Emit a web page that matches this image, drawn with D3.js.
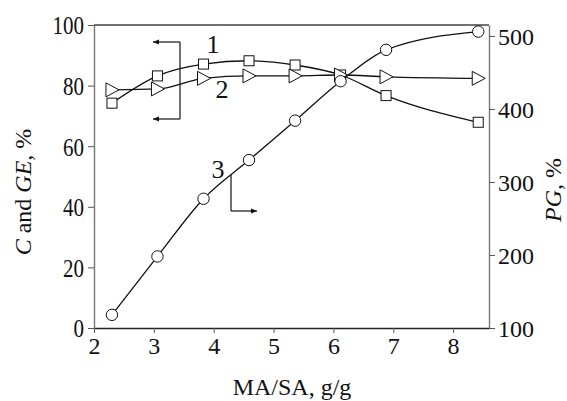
<!DOCTYPE html>
<html lang="en">
<head>
<meta charset="UTF-8">
<script src="https://cdn.jsdelivr.net/npm/d3@7"></script>
<style>
  body { margin: 0; background: #fff; }
  svg text { font-family: 'Liberation Serif', 'Times New Roman', Times, serif; fill: #111; }
</style>
</head>
<body>
<svg width="567" height="401"></svg>
<script>
// data
const massRatio = [2.30, 3.06, 3.83, 4.59, 5.36, 6.12, 6.88, 8.42];   // MA/SA, g/g
const conversion = [74.2, 83.2, 87.1, 88.2, 86.8, 83.5, 76.7, 67.9];  // curve 1, C %
const graftEff = [78.6, 78.9, 82.4, 83.2, 83.2, 83.5, 82.9, 82.4];    // curve 2, GE %
const percentGraft = [118, 198, 277, 330, 384, 438, 481, 506];        // curve 3, PG %

const xTicks = [2, 3, 4, 5, 6, 7, 8];
const leftTicks = [0, 20, 40, 60, 80, 100];
const rightTicks = [100, 200, 300, 400, 500];

const serif = "'Liberation Serif', 'Times New Roman', Times, serif";
const svg = d3.select('svg');
const box = { left: 94, right: 489, top: 25, bottom: 328 };

const x = d3.scaleLinear().domain([2, 8.6]).range([box.left, box.right]);
const yL = d3.scaleLinear().domain([0, 100]).range([box.bottom, box.top]);
const yR = d3.scaleLinear().domain([100, 515]).range([box.bottom, box.top]);

// arrow head
svg.append('defs').append('marker')
  .attr('id', 'arr')
  .attr('viewBox', '0 0 10 10')
  .attr('refX', 10).attr('refY', 5)
  .attr('markerWidth', 9).attr('markerHeight', 6)
  .attr('markerUnits', 'userSpaceOnUse')
  .attr('orient', 'auto')
  .append('path').attr('d', 'M0,1 L10,5 L0,9 Z').attr('fill', '#111');

// axes
const bottomAxis = svg.append('g')
  .attr('transform', `translate(0,${box.bottom})`)
  .call(d3.axisBottom(x).tickValues(xTicks).tickFormat(d3.format('d'))
    .tickSize(5).tickSizeOuter(0).tickPadding(4));
bottomAxis.select('.domain').attr('stroke', '#222').attr('stroke-width', 1.3);

const leftAxis = svg.append('g')
  .attr('transform', `translate(${box.left},0)`)
  .call(d3.axisLeft(yL).tickValues(leftTicks).tickSize(6).tickSizeOuter(0).tickPadding(4));
leftAxis.select('.domain').attr('stroke', '#777').attr('stroke-width', 1.4);

const rightAxis = svg.append('g')
  .attr('transform', `translate(${box.right},0)`)
  .call(d3.axisRight(yR).tickValues(rightTicks).tickSize(6).tickSizeOuter(0).tickPadding(3));
rightAxis.selectAll('text').attr('dy', '0.34em');
rightAxis.select('.domain').attr('stroke', '#777').attr('stroke-width', 1.4);

svg.selectAll('.tick line').attr('stroke', '#555');
svg.selectAll('.tick text').attr('font-size', 24).attr('font-family', serif);
[bottomAxis, leftAxis, rightAxis].forEach(a => a.attr('font-family', serif));

// left tick labels are taller and narrower in the original
leftAxis.selectAll('text')
  .attr('font-size', 26)
  .attr('dy', '0.34em')
  .attr('textLength', d => String(d).length * 10.5)
  .attr('lengthAdjust', 'spacingAndGlyphs');

svg.append('line')
  .attr('x1', box.left).attr('x2', box.right)
  .attr('y1', box.top).attr('y2', box.top)
  .attr('stroke', '#444').attr('stroke-width', 1.3);

// axis titles
svg.append('text')
  .attr('transform', 'translate(31,192) rotate(-90)')
  .attr('text-anchor', 'middle').attr('font-size', 24).attr('font-family', serif)
  .html('<tspan font-style="italic">C</tspan> and <tspan font-style="italic">GE</tspan>, %');

svg.append('text')
  .attr('transform', 'translate(561,190) rotate(-90)')
  .attr('text-anchor', 'middle').attr('font-size', 24).attr('font-family', serif)
  .html('<tspan font-style="italic">PG</tspan>, %');

svg.append('text')
  .attr('x', 292).attr('y', 395)
  .attr('text-anchor', 'middle').attr('font-size', 24).attr('font-family', serif)
  .text('MA/SA, g/g');

// curves
const lineL = d3.line().x(d => x(d[0])).y(d => yL(d[1])).curve(d3.curveMonotoneX);
const lineR = d3.line().x(d => x(d[0])).y(d => yR(d[1])).curve(d3.curveMonotoneX);

const s1 = d3.zip(massRatio, conversion);
const s2 = d3.zip(massRatio, graftEff);
const s3 = d3.zip(massRatio, percentGraft);

const plot = svg.append('g');
plot.append('path').datum(s1).attr('d', lineL);
plot.append('path').datum(s2).attr('d', lineL);
plot.append('path').datum(s3).attr('d', lineR);
plot.selectAll('path').attr('fill', 'none').attr('stroke', '#111').attr('stroke-width', 1.3);

// markers
plot.append('g').selectAll('rect').data(s1).enter().append('rect')
  .attr('x', d => x(d[0]) - 5).attr('y', d => yL(d[1]) - 5)
  .attr('width', 10).attr('height', 10)
  .attr('fill', '#fff').attr('stroke', '#111').attr('stroke-width', 1);

plot.append('g').selectAll('path').data(s2).enter().append('path')
  .attr('transform', d => `translate(${x(d[0])},${yL(d[1])})`)
  .attr('d', 'M-6,-7 L7,0 L-6,7 Z')
  .attr('fill', '#fff').attr('stroke', '#111').attr('stroke-width', 1);

plot.append('g').selectAll('circle').data(s3).enter().append('circle')
  .attr('cx', d => x(d[0])).attr('cy', d => yR(d[1])).attr('r', 5.7)
  .attr('fill', '#fff').attr('stroke', '#111').attr('stroke-width', 1);

// curve labels and pointers
const notes = svg.append('g');
notes.append('text').attr('x', 213).attr('y', 53).text('1');
notes.append('text').attr('x', 222).attr('y', 98).text('2');
notes.append('text').attr('x', 218).attr('y', 178).text('3');
notes.selectAll('text').attr('text-anchor', 'middle').attr('font-size', 26).attr('font-family', serif);

notes.append('line').attr('x1', 180).attr('x2', 180).attr('y1', 42).attr('y2', 119);
notes.append('line').attr('x1', 180).attr('x2', 153).attr('y1', 42).attr('y2', 42).attr('marker-end', 'url(#arr)');
notes.append('line').attr('x1', 180).attr('x2', 153).attr('y1', 119).attr('y2', 119).attr('marker-end', 'url(#arr)');

notes.append('line').attr('x1', 231).attr('x2', 231).attr('y1', 175).attr('y2', 211);
notes.append('line').attr('x1', 231).attr('x2', 257).attr('y1', 211).attr('y2', 211).attr('marker-end', 'url(#arr)');
notes.selectAll('line').attr('stroke', '#111').attr('stroke-width', 1.2);
</script>
</body>
</html>
